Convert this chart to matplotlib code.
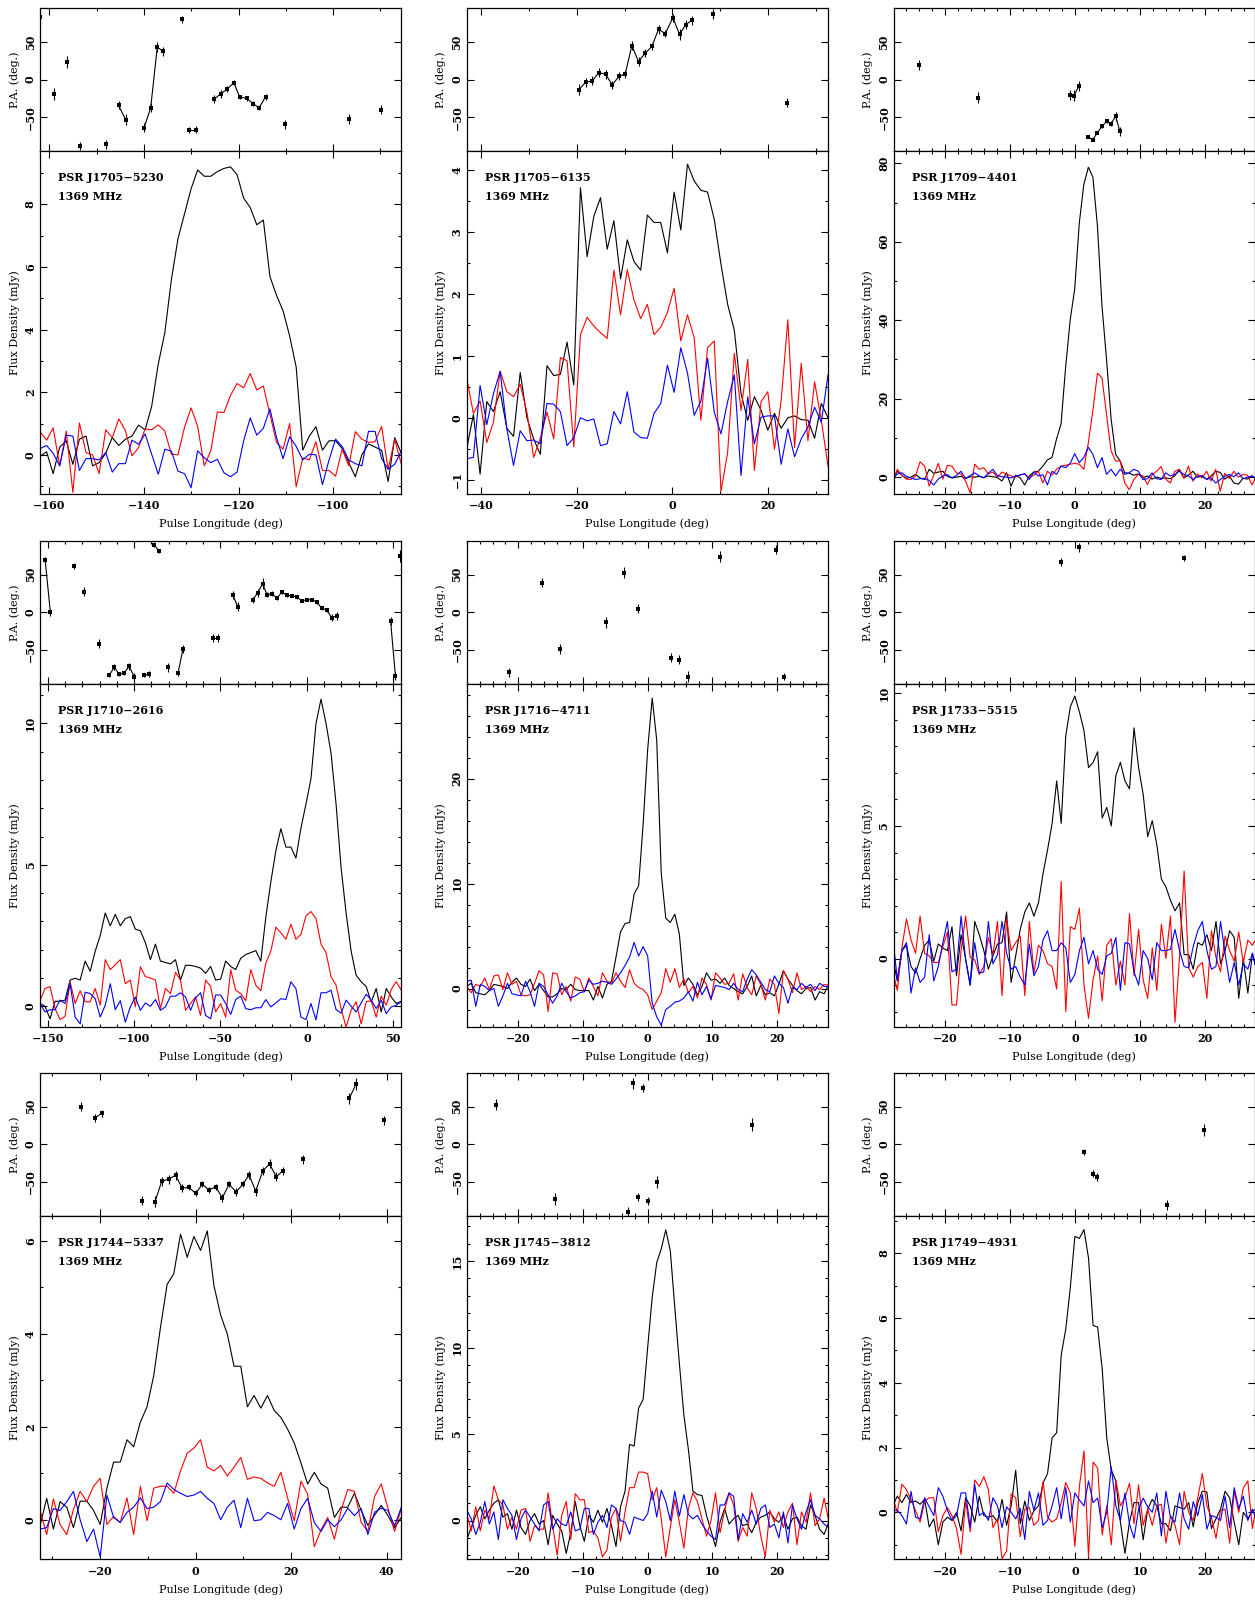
import numpy as np
import matplotlib
matplotlib.use("Agg")
import matplotlib.pyplot as plt
from matplotlib.ticker import MultipleLocator

plt.rcParams['font.family'] = ['DejaVu Serif']
plt.rcParams['font.weight'] = 'bold'
plt.rcParams['font.size'] = 8
plt.rcParams['axes.unicode_minus'] = True

# ---------------- data ----------------
# PSR J1705-5230
J1705_5230_lon = np.linspace(-162.0, -85.6, 56)
J1705_5230_I = [-0.05, 0.1, -0.6, 0.25, 0.45, -0.3, 0.5, 0.6, -0.35, -0.25, 0.05, 0.55, 0.3, 0.5, 0.6, 0.95,
                0.8, 1.55, 2.9, 3.9, 5.6, 6.9, 7.7, 8.5, 9.1, 8.9, 8.9, 9.05, 9.15, 9.2, 8.95, 8.2, 7.9, 7.35,
                7.5, 5.7, 5.1, 4.6, 3.8, 2.8, 0.15, 0.6, 0.9, 0.15, 0.45, 0.45, 0.2, -0.25, -0.7, 0.0, 0.35,
                0.25, 0.15, -0.85, 0.55, 0.05]
J1705_5230_L = [0.74, 0.47, 0.86, -0.35, 0.76, -1.2, 1.02, 0.07, 0.0, -0.6, 0.8, 0.55, 1.15, 0.77, -0.03, 0.23,
                0.83, 0.8, 0.96, 0.76, 0.02, 0.0, 0.88, 1.5, 0.91, -0.35, 0.13, 1.37, 1.35, 1.9, 2.28, 2.14, 2.6,
                2.07, 2.2, 1.3, 0.4, 0.18, 1.0, -1.02, -0.1, -0.16, 0.42, -0.5, -0.5, -0.68, 0.18, -0.35, 0.74,
                0.5, 0.4, 0.42, 0.91, -0.46, 0.5, -0.3]
J1705_5230_V = [0.2, 0.3, 0.05, -0.35, 0.63, 0.6, -0.5, -0.12, -0.12, -0.16, 0.07, -0.55, -0.28, -0.28, 0.47,
                0.34, 0.67, 0.02, -0.62, 0.18, 0.12, -0.52, -0.6, -1.05, 0.13, -0.09, -0.25, -0.14, -0.57, -0.7,
                -0.55, 0.45, 1.18, 0.63, 0.85, 1.47, 0.56, -0.12, 0.58, 0.27, -0.16, 0.02, 0.0, -0.95, -0.16, 0.5,
                0.27, -0.16, -0.28, -0.35, 0.75, 0.75, -0.12, -0.46, -0.3, 0.13]
J1705_5230_PA = [[(-161.9, 83.5, 8)], [(-159.0, -19, 8)], [(-156.2, 23, 8)], [(-153.5, -88, 5)],
                 [(-148.1, -86, 6)], [(-145.4, -34, 5), (-143.9, -53, 7)],
                 [(-140.0, -64, 6), (-138.6, -37.5, 6), (-137.2, 43, 7), (-135.9, 37.5, 6)],
                 [(-131.9, 80, 5)], [(-130.5, -66.5, 4), (-129.1, -66.5, 5)],
                 [(-125.2, -26, 5), (-123.8, -19, 5), (-122.4, -12.5, 4), (-121.0, -4, 3), (-119.8, -23, 3),
                  (-118.3, -25, 3), (-116.9, -32, 3), (-115.7, -37.5, 3), (-114.3, -23, 4)],
                 [(-110.1, -59, 6)], [(-96.6, -52, 7)], [(-89.8, -40, 6)]]

# PSR J1705-6135
J1705_6135_lon = np.linspace(-43.1, 32.6, 55)
J1705_6135_I = [-0.5, 0.05, -0.91, 0.26, 0.1, 0.42, -0.17, -0.3, 0.73, 0.0, -0.34, -0.59, 0.84, 0.68, 0.7, 1.22,
                0.53, 3.71, 2.6, 3.25, 3.55, 2.72, 3.18, 2.24, 2.87, 2.52, 2.38, 3.27, 3.15, 3.15, 2.66, 3.64,
                3.03, 4.09, 3.82, 3.67, 3.64, 3.2, 2.48, 1.83, 1.41, 0.39, -0.04, 0.34, 0.12, -0.2, 0.07, -0.17,
                0.0, 0.03, -0.03, -0.04, -0.33, 0.23, 0.0]
J1705_6135_L = [0.64, 0.07, 0.27, -0.4, -0.07, 0.75, 0.42, 0.34, 0.54, 0.09, -0.64, -0.33, 0.09, -0.34, 0.97,
                0.92, -0.47, 1.34, 1.62, 1.48, 1.37, 1.28, 2.38, 1.66, 2.39, 1.9, 1.6, 1.83, 1.34, 1.46, 1.7, 2.09,
                1.24, 1.66, 1.29, -0.04, 1.13, 1.24, -1.19, -0.56, 1.04, 0.12, 0.94, -0.85, 0.26, 0.42, -0.51,
                0.28, 1.58, -0.48, 0.88, -0.37, 0.58, -0.04, -0.78]
J1705_6135_V = [-0.66, -0.64, 0.52, -0.11, 0.39, 0.75, -0.18, -0.77, -0.21, -0.37, -0.36, -0.42, 0.23, 0.22, 0.1,
                -0.45, -0.32, 0.0, -0.05, -0.02, -0.45, -0.42, 0.1, -0.1, 0.42, -0.23, -0.32, -0.33, 0.07, 0.23,
                0.85, 0.41, 1.13, 0.72, 0.04, 0.27, 0.96, 0.09, -0.26, 0.26, 0.69, -0.93, 0.34, -0.42, 0.01, 0.03,
                0.03, -0.75, -0.18, -0.63, -0.34, -0.15, 0.17, -0.07, 0.69]
J1705_6135_PA = [[(-19.6, -13.4, 7), (-18.2, -3.6, 6), (-16.8, -1.8, 6), (-15.4, 9.4, 6), (-14.0, 7.1, 6),
                  (-12.6, -7.1, 5), (-11.2, 4.5, 5), (-9.9, 7.1, 5), (-8.5, 45, 6), (-7.1, 24, 6), (-5.7, 35, 5),
                  (-4.3, 44, 5), (-2.9, 67, 6), (-1.5, 61, 5), (0.1, 82, 5), (1.5, 60, 7), (2.8, 73, 6),
                  (4.2, 79, 6)],
                 [(8.5, 87, 7)], [(24.0, -30.4, 6)]]

# PSR J1709-4401
J1709_4401_lon = np.linspace(-28.0, 28.0, 81)
J1709_4401_I = [-0.4, 1.5, 0.5, -0.3, 0.0, 0.7, -0.2, -0.6, 2.0, 1.0, 1.3, 1.5, 0.2, -0.2, 0.0, 0.2, -0.3, 0.1,
                0.0, 0.2, -0.1, 0.3, 0.1, -0.1, -1.0, 1.1, -2.3, 0.5, -0.2, -2.0, 0.3, 1.3, 1.5, 2.8, 4.4, 5.0,
                9.7, 13.6, 28, 40, 48, 64.7, 74.6, 79, 76.5, 64, 43.6, 30, 14.9, 5.8, 4.1, 1.1, 1.0, 0.5, 0.8,
                -0.2, 0.3, -0.5, 0.0, -0.3, -0.2, -0.4, 0.3, 2.0, -0.2, 0.5, 1.5, 0.0, 0.2, -0.5, 0.3, 1.5, 1.2,
                -0.5, 0.3, -1.5, -1.8, -0.3, -0.5, 0.3, -0.8]
J1709_4401_L = [-1.0, 2.0, 0.5, -0.5, -0.6, 0.3, 3.9, 2.8, -2.3, 0.5, 3.5, -0.5, 3.0, 2.8, 1.1, 0.8, -1.0, -4.0,
                3.3, 2.0, 2.4, 0.8, 1.3, 0.0, 1.3, 0.8, 0.3, 0.0, 0.6, 0.8, -0.2, 0.5, 1.5, -1.5, 1.5, 0.5, 2.0,
                2.8, 3.0, 3.3, 3.5, 3.3, 2.0, 8.8, 17, 26.5, 25.3, 16, 6.7, 4.1, 4.1, -1.5, -3.2, -0.6, 0.7, 0.3,
                -1.9, 0.5, 1.5, 2.7, -0.5, -1.5, 1.5, 2.0, -0.3, 2.8, -1.0, 0.8, -0.2, 1.5, -1.0, 2.0, -3.6, 1.0,
                -0.3, 1.5, 0.0, 0.7, 0.5, -2.0, 0.5]
J1709_4401_V = [-0.4, 0.8, 1.1, 0.2, -0.2, -0.6, -0.4, -0.4, -0.8, -2.0, -0.5, 0.3, 0.6, -0.2, 0.4, 1.5, -0.4,
                0.4, 1.1, 0.3, -0.2, 1.0, 2.0, 0.4, 0.1, 0.0, -0.2, 0.3, 0.5, 0.9, -0.6, 1.3, 0.3, 0.6, -2.0, 1.5,
                0.7, 2.8, 2.4, 3.5, 6.0, 3.7, 5.0, 7.6, 5.8, 2.4, 5.0, 0.7, 2.0, 0.3, 2.0, 0.7, 1.1, 2.0, 1.5,
                -0.6, -0.4, 1.1, -0.4, -0.6, 1.1, 0.3, 0.7, 1.5, 0.7, 0.3, -0.6, 0.2, 0.4, -0.6, -0.2, -1.5, -0.6,
                0.2, 0.7, 0.1, 1.1, -0.4, 0.0, 0.3, -0.4]
J1709_4401_PA = [[(-24.0, 19.6, 7)], [(-14.9, -24, 7)],
                 [(-0.74, -20.5, 7), (-0.13, -21.4, 7), (0.64, -8.5, 6)],
                 [(2.03, -76, 2), (2.8, -79.5, 2), (3.47, -70.5, 2), (4.24, -61.6, 2), (4.9, -55.4, 2),
                  (5.6, -58.5, 3), (6.3, -48.7, 6), (6.96, -68.8, 6)]]

# PSR J1710-2616
J1710_2616_lon = np.linspace(-154.5, 54.7, 73)
J1710_2616_I = [0.1, 0.0, -0.44, 0.18, 0.18, 0.22, 0.93, 0.99, 0.93, 1.6, 1.24, 1.95, 2.5, 3.3, 2.85, 3.25, 2.85,
                3.1, 3.17, 2.73, 2.67, 2.25, 1.65, 2.2, 1.6, 1.55, 1.5, 1.65, 0.93, 1.45, 1.45, 1.41, 1.35, 1.17,
                1.41, 0.93, 0.96, 1.6, 1.41, 1.3, 1.7, 1.83, 1.9, 1.97, 1.6, 3.15, 4.4, 5.5, 6.28, 5.63, 5.63,
                5.24, 6.3, 7.15, 8.05, 10.0, 10.86, 10.0, 8.95, 7.15, 4.9, 3.3, 1.95, 1.1, 0.87, 0.7, 0.15, 0.63,
                -0.2, 0.63, 0.33, 0.1, 0.18]
J1710_2616_L = [0.2, 0.63, 0.7, -0.08, -0.47, -0.35, 0.87, 0.1, 0.55, 0.16, 0.16, 0.63, 0.04, 1.65, 1.3, 1.47,
                1.65, 0.8, 0.93, -0.02, 1.4, 1.05, 1.0, 0.93, -0.08, 0.63, 0.45, 1.2, 0.93, -0.14, 0.1, 0.33, -0.32,
                0.93, 0.7, -0.2, 0.1, -0.38, 1.3, 0.57, 0.45, 0.2, 1.3, 0.75, 0.55, 1.53, 1.95, 2.8, 2.6, 2.37,
                2.9, 2.37, 2.55, 3.2, 3.35, 3.1, 2.2, 1.9, 1.05, 0.75, -0.08, -0.74, -0.14, 0.16, -0.62, 0.16,
                0.2, -0.38, 0.36, 0.04, 0.6, 0.87, 0.57]
J1710_2616_V = [0.1, -0.2, -0.12, -0.12, 0.22, 0.1, 0.8, -0.38, -0.62, 0.5, 0.45, 0.27, -0.38, 0.04, 0.8, -0.12,
                0.2, -0.56, -0.02, 0.33, -0.14, 0.12, 0.0, 0.24, -0.14, -0.02, 0.36, 0.36, 0.48, 0.33, -0.14, 0.3,
                0.48, -0.32, -0.44, 0.4, 0.4, 0.1, -0.29, 0.24, 0.36, -0.08, -0.12, -0.05, -0.05, 0.24, -0.02,
                0.12, 0.27, 0.24, 0.87, 0.63, -0.38, -0.47, 0.1, -0.48, 0.48, 0.48, 0.57, -0.12, -0.24, 0.22, 0.0,
                -0.2, 0.12, 0.43, 0.22, -0.08, 0.22, -0.26, -0.02, 0.04, 0.16]
J1710_2616_PA = [[(-151.5, 69, 4), (-148.5, 0, 5)], [(-134.6, 61.4, 4)], [(-128.8, 27, 6)], [(-120.2, -41.7, 6)],
                 [(-114.4, -83.4, 3), (-111.5, -73, 4), (-108.7, -82, 3), (-105.8, -80.7, 3), (-102.9, -71.7, 5),
                  (-100.0, -85.2, 5)],
                 [(-94.2, -83.4, 3), (-91.3, -82, 4)], [(-88.5, 89.7, 3), (-85.6, 81.6, 3)], [(-80.4, -73, 6)],
                 [(-74.6, -80.7, 4), (-71.7, -48.4, 5)], [(-54.4, -34, 5), (-51.5, -34, 5)],
                 [(-42.9, 23.3, 5), (-40.0, 7.6, 6)],
                 [(-31.3, 16.6, 4), (-28.5, 25.6, 5), (-25.6, 38, 7), (-23.1, 23.3, 3), (-20.2, 24.7, 3),
                  (-17.3, 18.8, 3), (-14.4, 27, 3), (-11.5, 22.4, 2), (-8.7, 22, 2), (-5.8, 20.2, 2),
                  (-2.9, 15.2, 2), (0.0, 16.6, 2), (2.9, 16.6, 2), (5.8, 13.5, 2), (8.7, 5.4, 3), (11.5, 3.1, 3),
                  (14.4, -7.2, 5), (17.3, -4.9, 5)],
                 [(48.5, -11.7, 5), (51.3, -84.3, 5)], [(54.2, 75, 8)]]

# PSR J1716-4711
J1716_4711_lon = np.linspace(-28.0, 28.0, 81)
J1716_4711_I = [0.2, 0.5, -0.4, -0.5, -0.6, -0.2, 0.4, 0.3, 0.2, 0.0, 0.6, 1.0, 0.4, 0.2, 0.9, -0.2, 0.4, -0.2,
                -0.8, -0.8, -0.5, 0.0, -0.1, 0.4, -0.1, -0.2, -0.2, -0.2, -1.1, 0.2, -0.9, 0.4, 0.7, 3.0, 5.4,
                6.2, 6.3, 9.0, 9.8, 15.7, 22.8, 27.7, 23.7, 11.0, 6.7, 6.3, 7.1, 5.2, 0.3, 1.0, 0.4, -0.6, 0.2,
                1.5, 0.8, 0.9, 0.5, 1.0, 0.3, 0.0, -0.3, -0.5, 0.2, 1.2, -0.7, 0.3, -0.6, -0.4, -0.7, 0.4, 1.7,
                0.9, 0.3, -0.2, -0.5, 0.0, 0.1, -1.1, -0.3, -0.5, 0.4]
J1716_4711_L = [0.2, -0.4, 0.4, 0.2, 1.0, -0.1, 1.2, 1.3, -0.1, 1.5, 0.4, 0.7, -0.6, -0.7, -0.6, 0.5, 1.7, 1.3,
                -2.2, 1.5, 1.4, -0.6, 0.2, -1.2, 1.1, 0.9, -0.3, 1.0, 0.2, -0.7, 1.5, 0.7, 0.5, 1.5, 0.7, 0.1,
                1.8, 0.5, 0.1, -0.1, -0.6, -2.0, -1.2, -0.4, 1.9, 0.6, 1.9, 0.1, 0.9, -0.4, 0.2, -0.9, 1.0, 0.4,
                -1.1, 1.5, 1.0, 0.4, 0.5, 1.4, -1.1, 1.4, 0.1, -0.6, 1.2, 0.4, -1.1, 0.9, 0.4, -2.4, 1.7, 0.9,
                -0.4, 1.5, -0.1, 0.2, -0.3, 0.2, -0.1, 0.4, 0.3]
J1716_4711_V = [0.7, 0.8, -1.7, 0.4, 0.2, -0.2, 0.0, -1.7, -0.7, 0.5, -0.5, -0.6, -0.7, 0.7, -0.3, -1.7, 0.5,
                0.2, -0.6, -1.4, -0.7, 0.5, -0.3, -0.9, -0.7, -0.4, -0.3, 0.8, 0.4, 0.5, 0.7, 0.6, 0.4, 0.9, 1.5,
                2.2, 3.0, 4.4, 3.1, 4.0, 3.1, -1.4, -2.7, -3.5, -2.0, -1.7, -1.3, -1.2, -0.9, -0.3, -1.2, 0.6,
                -0.6, 0.2, -1.0, 0.3, 0.2, 0.1, -0.1, 0.5, -0.1, -0.3, 0.9, 1.8, 1.3, 0.6, -0.1, -0.3, 1.2, 0.5,
                0.1, -1.4, 0.1, -0.1, 0.5, 0.1, 0.4, -0.2, 0.5, 0.2, 0.2]
J1716_4711_PA = [[(-21.4, -79.8, 6)], [(-16.4, 39, 6)], [(-13.5, -48.4, 7)], [(-6.4, -13.5, 7)],
                 [(-3.6, 52.5, 7)], [(-1.44, 4.5, 6)], [(3.56, -60.5, 6)], [(4.9, -63.2, 6)], [(6.3, -85.2, 7)],
                 [(11.2, 74, 7)], [(19.8, 83, 6)], [(21.1, -85.2, 5)]]

# PSR J1733-5515
J1733_5515_lon = np.linspace(-28.0, 28.0, 81)
J1733_5515_I = [0.0, -0.85, 0.3, 0.5, -0.3, -0.55, 0.0, 0.5, 0.7, -0.1, 0.55, 0.4, 0.3, 1.2, -0.65, 0.9, 0.0,
                -1.0, 1.4, 0.9, 0.3, -0.4, 0.1, 0.55, 0.6, 1.76, -0.9, 0.1, 1.1, 1.76, 2.1, 1.6, 2.1, 3.2, 4.1,
                5.1, 6.7, 5.1, 8.4, 9.5, 9.9, 9.3, 8.6, 7.2, 7.4, 7.8, 5.3, 5.7, 5.0, 6.9, 7.4, 6.7, 6.4, 8.7,
                7.2, 6.2, 4.6, 5.2, 4.3, 3.0, 2.7, 2.2, 1.8, 2.1, 0.15, 0.15, -0.4, 0.6, 0.5, 0.9, 0.3, 1.4, -0.2,
                0.3, 1.05, 0.8, -1.5, 0.0, -1.3, 0.2, -0.5]
J1733_5515_L = [-0.5, -1.2, 0.4, 1.5, 0.7, 0.2, 1.6, 0.2, 0.1, -0.15, -0.15, 0.45, 1.0, -1.75, -1.75, 0.3, 1.6,
                0.05, -0.05, -0.6, -0.3, 0.8, 0.15, 1.4, -1.4, 1.5, 0.3, 0.6, 0.85, -1.4, 1.4, -0.55, 0.5, 0.3,
                -0.2, -0.3, -1.15, 2.9, -2.0, 1.2, 1.1, 1.9, -1.0, -2.25, -0.8, 0.1, -1.6, 0.5, 0.75, -1.0, -0.1,
                -1.0, 1.7, -0.65, 1.1, -0.8, -1.5, 0.4, -1.2, 1.3, 0.0, 1.6, -2.4, 0.1, 3.3, -0.35, -0.7, -0.3,
                -0.15, -1.5, 1.05, 0.05, -0.5, 0.85, 0.3, -0.1, 1.0, -0.15, 0.7, 0.5, 0.8]
J1733_5515_V = [0.8, -0.8, 0.3, 0.6, -1.3, -0.35, -0.9, -0.7, 0.9, -0.85, -0.3, 0.6, 1.4, -0.5, -0.4, 1.6, -0.05,
                -1.0, 0.6, -0.55, -0.5, 1.4, -0.2, 0.15, 1.4, 0.2, -0.4, -0.3, -0.7, -1.0, 0.55, -0.65, -0.3, 0.7,
                1.05, 0.3, 0.3, 0.6, 0.4, -0.9, -0.6, 0.3, 0.8, -0.2, 0.3, -0.4, -0.6, 0.1, 0.2, 0.8, -1.2, 0.6,
                0.55, -0.5, -1.0, 0.3, 0.0, -0.8, 0.6, 0.3, 0.3, 0.35, 1.1, 0.3, -0.3, -0.35, 0.45, 1.05, 1.4,
                0.3, -0.4, -0.3, 1.4, 0.2, -0.9, -0.15, -1.0, -0.2, -0.4, 0.2, -0.5]
J1733_5515_PA = [[(-2.2, 67, 5)], [(0.62, 86, 6)], [(16.8, 72.6, 4)]]

# PSR J1744-5337
J1744_5337_lon = np.linspace(-32.6, 43.1, 55)
J1744_5337_I = [-0.13, 0.46, -0.2, 0.39, 0.27, -0.17, 0.4, 0.4, 0.2, -0.1, 0.68, 1.24, 1.24, 1.72, 1.57, 2.1,
                2.43, 3.1, 4.13, 5.06, 5.29, 6.14, 5.64, 6.09, 5.79, 6.21, 5.03, 4.4, 3.99, 3.3, 3.3, 2.43, 2.67,
                2.4, 2.67, 2.35, 2.2, 1.95, 1.65, 1.22, 0.77, 1.02, 0.77, 0.68, 0.05, 0.27, 0.27, 0.57, 0.2,
                -0.12, 0.1, 0.31, 0.09, -0.17, 0.05]
J1744_5337_L = [0.2, -0.32, 0.45, -0.1, -0.32, 0.22, 0.61, 0.39, 0.72, 0.89, -0.1, 0.07, -0.06, 0.47, -0.32, 0.72,
                -0.02, 0.68, 0.72, 0.72, 0.57, 1.05, 1.43, 1.54, 1.72, 1.13, 1.05, 1.17, 0.94, 1.13, 1.34, 0.87,
                0.92, 0.89, 0.79, 0.72, 1.02, 0.47, -0.02, 0.83, 0.55, -0.58, -0.22, 0.05, -0.42, 0.2, 0.65, 0.61,
                -0.06, -0.25, 0.5, 0.77, 0.25, -0.25, 0.24]
J1744_5337_V = [-0.2, -0.17, 0.24, 0.2, 0.39, 0.61, 0.0, -0.47, -0.2, -0.8, 0.53, 0.05, -0.06, 0.16, 0.27, 0.47,
                0.24, 0.27, 0.39, 0.79, 0.65, 0.57, 0.5, 0.53, 0.61, 0.46, 0.35, 0.0, 0.27, 0.42, -0.17, 0.46,
                -0.02, 0.0, 0.16, 0.09, 0.0, 0.35, -0.2, 0.24, 0.46, -0.06, -0.25, 0.0, -0.15, 0.0, 0.25, 0.09,
                0.24, -0.32, 0.16, 0.25, 0.2, -0.13, 0.27]
J1744_5337_PA = [[(-24.1, 50, 6)], [(-21.1, 35, 5), (-19.7, 41, 5)], [(-11.3, -74.5, 6)],
                 [(-8.5, -76, 7), (-7.1, -49, 6), (-5.6, -46, 6), (-4.2, -41, 6), (-2.8, -58, 5), (-1.4, -57, 4),
                  (0.0, -65, 4), (1.4, -53, 4), (2.8, -60.6, 4), (4.2, -56, 4), (5.6, -71, 5), (7.0, -53, 4),
                  (8.5, -63, 5), (9.9, -53, 4), (11.2, -40.7, 5), (12.6, -62, 6), (14.1, -35, 5), (15.5, -26, 6),
                  (16.9, -43, 6), (18.3, -35, 5)],
                 [(22.5, -20, 6)], [(32.2, 61, 7), (33.6, 79.6, 8)], [(39.4, 32, 6)]]

# PSR J1745-3812
J1745_3812_lon = np.linspace(-28.0, 28.0, 81)
J1745_3812_I = [-1.1, -0.4, 0.3, 0.8, 0.1, 0.6, 1.0, 1.2, 0.2, 0.4, -0.5, 0.6, -0.4, -0.8, 0.0, 0.4, -0.2, 0.0,
                -1.4, 0.3, -0.2, -0.6, -1.9, -0.7, 1.1, -0.3, -1.2, 0.3, -0.1, 0.6, -0.1, 0.7, -0.3, -1.5, 0.8,
                1.7, 4.4, 4.3, 6.5, 7.0, 10.0, 12.9, 14.9, 15.7, 16.8, 15.6, 12.3, 9.1, 6.1, 4.1, 1.7, 1.5, 1.45,
                0.3, -0.6, -1.5, -0.1, 0.7, -0.2, 0.1, 0.3, -0.3, -0.2, -0.7, -0.1, 0.2, 0.3, 0.5, 0.1, -0.1,
                0.3, -0.5, 0.1, 0.2, -0.3, -0.5, 0.9, 0.3, -0.5, -0.8, -0.1]
J1745_3812_L = [0.4, -0.6, 0.8, -0.6, 0.6, 0.1, 2.0, 1.2, 0.9, -0.5, 0.2, -0.5, 0.6, 0.7, -1.2, -0.3, -0.5, -0.5,
                1.6, -0.3, -2.0, 0.3, 1.1, -1.1, 1.55, 1.2, 1.2, -0.7, -0.6, -1.0, -2.1, -1.7, 0.2, 0.7, -1.2,
                0.5, 1.9, 1.9, 2.8, 2.8, 2.7, 1.2, 1.9, 0.1, -2.1, -0.4, 1.2, -0.1, -1.6, 0.7, 1.6, 1.1, 0.1,
                -0.9, 0.0, 1.6, -0.7, 0.6, 1.6, 0.9, -1.2, -0.4, -0.9, 1.6, 0.7, -0.9, -2.1, 0.6, -0.1, 0.5, -0.4,
                0.5, 1.0, -1.4, 0.5, -0.1, 1.6, -0.3, 0.1, 1.3, 0.0]
J1745_3812_V = [0.6, 0.1, -0.8, -0.1, 1.1, -0.2, 0.5, -1.1, 1.2, 0.7, 0.3, -1.1, 0.1, 0.6, 0.2, -0.2, -0.6, 0.9,
                1.1, -0.5, 0.1, -0.2, -0.3, 0.5, -0.6, -0.5, 0.7, 0.7, -0.8, -0.1, 0.3, -0.4, 0.9, 0.7, 0.0, -0.1,
                -0.8, 0.2, 0.1, 0.0, 0.4, 1.7, 0.2, 1.75, 1.1, 0.0, 1.7, 0.25, 1.5, 0.35, 0.1, 0.3, -0.2, -0.6,
                -0.9, -1.1, 0.9, 0.9, 1.6, 1.4, -1.1, 0.4, -0.1, 0.6, -0.2, 0.7, 0.9, -0.4, -0.2, -1.0, 0.5, -1.3,
                0.9, 0.1, -0.5, 0.5, 1.2, 0.3, 0.1, -0.2, -0.4]
J1745_3812_PA = [[(-23.5, 52.5, 7)], [(-14.3, -72, 8)], [(-3.0, -89.4, 6)], [(-2.2, 81, 7)], [(-1.44, -69.6, 5)],
                 [(-0.77, 74.6, 5)], [(0.0, -75, 5)], [(1.4, -50, 8)], [(16.2, 26.3, 8)]]

# PSR J1749-4931
J1749_4931_lon = np.linspace(-28.0, 28.0, 81)
J1749_4931_I = [0.2, 0.5, 0.3, 0.55, 0.3, 0.35, 0.25, 0.4, -0.45, -0.2, -1.0, -0.3, -0.15, -0.25, 0.0, -0.57,
                0.45, 0.2, -0.3, 0.5, -0.1, -0.15, -0.1, -0.3, 0.4, -0.4, 0.2, 1.3, -0.35, 0.35, -0.25, 0.05, 0.2,
                0.9, 1.2, 2.3, 2.46, 4.86, 5.66, 6.94, 8.52, 8.46, 8.73, 7.85, 5.77, 5.72, 4.44, 2.3, 1.3, 0.97,
                -0.3, -1.27, -0.3, 0.3, 0.3, -0.85, 0.1, 0.4, 0.2, -0.35, -0.35, -0.57, 0.2, 0.15, 0.1, 0.3,
                -0.45, 0.3, 0.65, 0.63, -0.5, -0.2, 0.1, 0.65, 0.45, -0.3, -1.0, 0.0, -0.2, 0.05, 0.1]
J1749_4931_L = [0.45, 0.0, 0.87, 0.7, 0.4, 0.05, -0.3, 0.35, 0.45, 0.45, -0.6, -0.1, 0.15, -0.1, -0.5, -1.3, 0.35,
                -0.6, 1.0, 0.8, 1.1, 0.7, -0.47, -0.2, -1.43, -1.2, 0.57, 0.45, -0.75, 0.1, 0.15, -0.4, -0.25,
                0.95, -0.15, -0.3, -0.2, 0.3, 0.92, 0.6, -1.05, 0.8, 1.9, -1.4, 1.55, 1.37, -0.7, 0.2, -1.0, 1.0,
                0.2, 0.45, 0.9, -0.35, 0.85, -0.4, 0.1, -0.4, 0.2, 0.25, -0.95, -0.1, -0.4, -1.0, 0.65, 0.0,
                -0.25, 0.45, 1.2, 0.2, -0.15, -0.8, 0.05, 0.1, -0.95, 0.65, 0.0, 0.75, 0.97, -0.5, 0.3]
J1749_4931_V = [0.06, 0.06, -0.1, -0.36, 0.65, -0.15, -0.2, 0.45, 0.17, -0.1, 0.76, 0.5, 0.06, -0.25, -0.1, 0.6,
                0.6, -0.47, 0.86, -0.1, 0.0, -0.25, 0.45, 0.2, -0.47, 0.17, 0.0, -0.2, 0.12, -0.84, 0.65, 0.06,
                0.6, -0.4, -0.25, 0.2, 0.76, -0.2, 0.76, -0.3, 0.6, 0.38, 0.2, 0.97, 0.3, 0.44, -0.47, 0.0, 1.4,
                0.2, -0.25, 0.6, -0.36, -0.8, 0.1, 0.44, 0.17, 0.0, 0.6, -0.73, 0.65, -0.15, -0.3, 0.6, -0.2,
                -0.52, 0.33, -0.1, 0.55, -0.52, -0.1, -0.15, -0.25, 0.5, -0.47, 0.76, 0.12, 0.5, -0.25, 0.1, -0.3]
J1749_4931_PA = [[(1.39, -9.7, 4)], [(2.77, -38.7, 5), (3.44, -43.3, 5)], [(14.1, -80.2, 7)], [(19.8, 19.4, 8)]]

names = ['PSR J1705\u22125230', 'PSR J1705\u22126135', 'PSR J1709\u22124401',
         'PSR J1710\u22122616', 'PSR J1716\u22124711', 'PSR J1733\u22125515',
         'PSR J1744\u22125337', 'PSR J1745\u22123812', 'PSR J1749\u22124931']
freq_label = '1369 MHz'

panels = [
    (J1705_5230_lon, J1705_5230_I, J1705_5230_L, J1705_5230_V, J1705_5230_PA),
    (J1705_6135_lon, J1705_6135_I, J1705_6135_L, J1705_6135_V, J1705_6135_PA),
    (J1709_4401_lon, J1709_4401_I, J1709_4401_L, J1709_4401_V, J1709_4401_PA),
    (J1710_2616_lon, J1710_2616_I, J1710_2616_L, J1710_2616_V, J1710_2616_PA),
    (J1716_4711_lon, J1716_4711_I, J1716_4711_L, J1716_4711_V, J1716_4711_PA),
    (J1733_5515_lon, J1733_5515_I, J1733_5515_L, J1733_5515_V, J1733_5515_PA),
    (J1744_5337_lon, J1744_5337_I, J1744_5337_L, J1744_5337_V, J1744_5337_PA),
    (J1745_3812_lon, J1745_3812_I, J1745_3812_L, J1745_3812_V, J1745_3812_PA),
    (J1749_4931_lon, J1749_4931_I, J1749_4931_L, J1749_4931_V, J1749_4931_PA),
]

# ---------------- layout / style ----------------
axis_cfg = [
    dict(xlim=(-162.0, -85.6), ylim=(-1.25, 9.7), xt=(20, 10), yt=(2, 1)),
    dict(xlim=(-43.1, 32.6), ylim=(-1.23, 4.3), xt=(20, 10), yt=(1, 0.5)),
    dict(xlim=(-27.86, 27.75), ylim=(-4.3, 83.1), xt=(10, 2), yt=(20, 10)),
    dict(xlim=(-154.5, 54.7), ylim=(-0.72, 11.4), xt=(50, 10), yt=(5, 1)),
    dict(xlim=(-28.0, 27.9), ylim=(-3.64, 29.05), xt=(10, 2), yt=(10, 2)),
    dict(xlim=(-27.86, 27.7), ylim=(-2.57, 10.36), xt=(10, 2), yt=(5, 1)),
    dict(xlim=(-32.6, 43.1), ylim=(-0.85, 6.53), xt=(20, 10), yt=(2, 1)),
    dict(xlim=(-28.0, 27.9), ylim=(-2.24, 17.6), xt=(10, 2), yt=(5, 1)),
    dict(xlim=(-27.86, 27.7), ylim=(-1.45, 9.15), xt=(10, 2), yt=(2, 1)),
]

W, H = 1255.0, 1601.0
col_left = [40.0, 466.7, 893.7]
col_w = 361.3
rows = [(8.0, 151.2, 494.0), (540.7, 683.9, 1026.7), (1072.7, 1216.0, 1559.3)]

fig = plt.figure(figsize=(W / 100, H / 100), dpi=100)
fig.patch.set_facecolor('white')


def style_axes(ax, xt, yt):
    ax.xaxis.set_major_locator(MultipleLocator(xt[0]))
    ax.xaxis.set_minor_locator(MultipleLocator(xt[1]))
    ax.yaxis.set_major_locator(MultipleLocator(yt[0]))
    ax.yaxis.set_minor_locator(MultipleLocator(yt[1]))
    ax.tick_params(which='both', direction='in', top=True, right=True, width=0.8, color='black')
    ax.tick_params(which='major', length=5)
    ax.tick_params(which='minor', length=2.5)
    ax.tick_params(axis='y', labelrotation=90, pad=3)
    ax.tick_params(axis='x', pad=4.5)
    for s in ax.spines.values():
        s.set_linewidth(0.9)
    for lab in ax.get_yticklabels():
        lab.set_va('center')


for i, (lon, I, L, V, pa) in enumerate(panels):
    r, c = divmod(i, 3)
    top, mid, bot = rows[r]
    cfg = axis_cfg[i]
    left = col_left[c] / W
    ax_pa = fig.add_axes([left, 1 - mid / H, col_w / W, (mid - top) / H])
    ax_fl = fig.add_axes([left, 1 - bot / H, col_w / W, (bot - mid) / H])

    # flux profiles
    ax_fl.plot(lon, I, color='black', lw=0.8)
    ax_fl.plot(lon, L, color='#ff0000', lw=0.8)
    ax_fl.plot(lon, V, color='#0000ff', lw=0.8)
    ax_fl.set_xlim(*cfg['xlim'])
    ax_fl.set_ylim(*cfg['ylim'])
    style_axes(ax_fl, cfg['xt'], cfg['yt'])
    ax_fl.set_ylabel('Flux Density (mJy)')
    ax_fl.yaxis.set_label_coords(-0.071, 0.5)
    ax_fl.yaxis.label.set_va('center')
    ax_fl.set_xlabel('Pulse Longitude (deg)')
    ax_fl.xaxis.set_label_coords(0.5, -30.0 / (bot - mid))
    ax_fl.xaxis.label.set_va('center')
    ax_fl.text(0.05, 0.922, names[i], transform=ax_fl.transAxes, ha='left', va='center')
    ax_fl.text(0.05, 0.868, freq_label, transform=ax_fl.transAxes, ha='left', va='center')

    # position angle
    for seg in pa:
        xs = [p[0] for p in seg]
        ys = [p[1] for p in seg]
        es = [p[2] for p in seg]
        if len(seg) > 1:
            ax_pa.plot(xs, ys, color='black', lw=0.8)
        ax_pa.errorbar(xs, ys, yerr=es, fmt='s', ms=2.2, color='black', ecolor='black',
                       elinewidth=0.8, capsize=0, mew=0)
    ax_pa.set_xlim(*cfg['xlim'])
    ax_pa.set_ylim(-95, 95)
    style_axes(ax_pa, cfg['xt'], (50, 50))
    ax_pa.tick_params(labelbottom=False)
    ax_pa.set_ylabel('P.A. (deg.)')
    ax_pa.yaxis.set_label_coords(-0.071, 0.5)
    ax_pa.yaxis.label.set_va('center')

fig.savefig('out.png', dpi=100, facecolor='white')
